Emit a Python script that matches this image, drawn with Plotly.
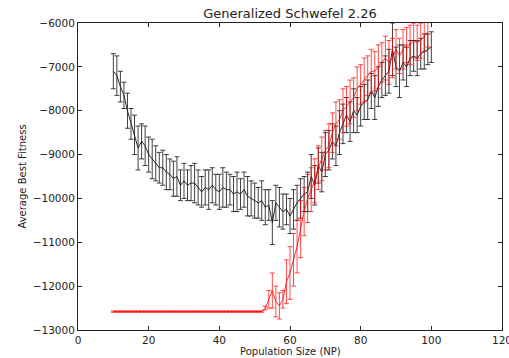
import plotly.graph_objects as go

x_vals = list(range(10, 101))

black_mean = [-7100, -7200, -7450, -7650, -8000, -8300, -8550, -8850, -8700, -8800,
              -9000, -9100, -9200, -9300, -9300, -9400, -9450, -9550, -9500, -9700,
              -9600, -9700, -9650, -9650, -9750, -9850, -9750, -9800, -9700, -9800,
              -9850, -9750, -9800, -9800, -9900, -9850, -9900, -9800, -9950, -10000,
              -10050, -10100, -10050, -10200, -10150, -10550, -10100, -10200, -10300, -10250,
              -10400, -10250, -10100, -10000, -9900, -9850, -9500, -9700, -9250, -9400,
              -9000, -8900, -8700, -8800, -8500, -8300, -8100, -8250, -8000, -8100,
              -7900, -7800, -7750, -7550, -7700, -7450, -7300, -7200, -7100, -6600,
              -7000, -7100, -6900, -7000, -6800, -6750, -6800, -6700, -6650, -6600,
              -6550]
black_err = [400, 450, 350, 300, 400, 350, 450, 500, 400, 450,
             400, 450, 400, 350, 400, 400, 350, 400, 450, 350,
             400, 350, 400, 450, 400, 350, 400, 450, 400, 350,
             400, 450, 400, 350, 400, 450, 350, 400, 450, 400,
             400, 350, 450, 400, 350, 500, 400, 450, 400, 350,
             400, 450, 400, 450, 400, 450, 500, 450, 400, 450,
             500, 450, 400, 450, 500, 450, 400, 450, 500, 400,
             450, 400, 450, 400, 500, 450, 400, 450, 500, 600,
             450, 600, 400, 450, 400, 350, 400, 350, 400, 350,
             350]

red_mean = [-12580] * 43 + [
    -12500, -12300, -12100, -12350, -12450, -12300, -11900, -11700, -11400, -11100,
    -10700, -10300, -10000, -9800, -9600, -9300, -9100, -8900, -8800, -8500,
    -8300, -8200, -8000, -7900, -7800, -7700, -7500, -7400, -7300, -7200,
    -7100, -7100, -7000, -6900, -6800, -6900, -6800, -6600, -6750, -6600,
    -6500, -6500, -6400, -6450, -6400, -6300, -6200]
red_err = [15] * 43 + [
    40, 200, 400, 350, 300, 200, 500, 600, 600, 600,
    650, 550, 550, 500, 500, 500, 500, 450, 500, 450,
    500, 450, 500, 450, 500, 450, 500, 450, 500, 450,
    500, 450, 500, 450, 500, 500, 450, 450, 400, 450,
    400, 450, 400, 400, 400, 350, 350]

fig = go.Figure()
fig.add_trace(go.Scatter(
    x=x_vals, y=black_mean, mode="lines",
    line=dict(color="rgba(20,20,20,0.9)", width=1),
    error_y=dict(type="data", array=black_err, visible=True,
                 color="rgba(30,30,30,0.85)", thickness=1, width=2.5),
    showlegend=False))
fig.add_trace(go.Scatter(
    x=x_vals, y=red_mean, mode="lines",
    line=dict(color="rgba(255,0,0,0.8)", width=1),
    error_y=dict(type="data", array=red_err, visible=True,
                 color="rgba(255,0,0,0.7)", thickness=1, width=2.5),
    showlegend=False))

axis_common = dict(showline=True, linecolor="#222", linewidth=1, mirror="ticks",
                   ticks="inside", ticklen=4, tickcolor="#222", showgrid=False,
                   zeroline=False, tickfont=dict(size=10.5, color="#222"),
                   ticklabeloverflow="allow")
fig.update_layout(
    width=509, height=358,
    margin=dict(l=78, r=7, t=23, b=28),
    paper_bgcolor="white", plot_bgcolor="white",
    font=dict(family="DejaVu Sans", color="#222"),
    title=dict(text="Generalized Schwefel 2.26", x=0.5, xref="paper",
               y=0.962, yanchor="middle", font=dict(size=13)),
    xaxis=dict(range=[0, 120], dtick=20, automargin=False, **axis_common),
    yaxis=dict(range=[-13000, -6000], dtick=1000, tickformat="d", automargin=False,
               title=dict(text="Average Best Fitness", font=dict(size=10), standoff=4),
               **axis_common),
    annotations=[dict(text="Population Size (NP)", x=0.5, xref="paper",
                      y=0, yref="paper", yanchor="top", yshift=-14,
                      showarrow=False, font=dict(size=10, color="#222"))],
)
fig.write_html("out.html")
